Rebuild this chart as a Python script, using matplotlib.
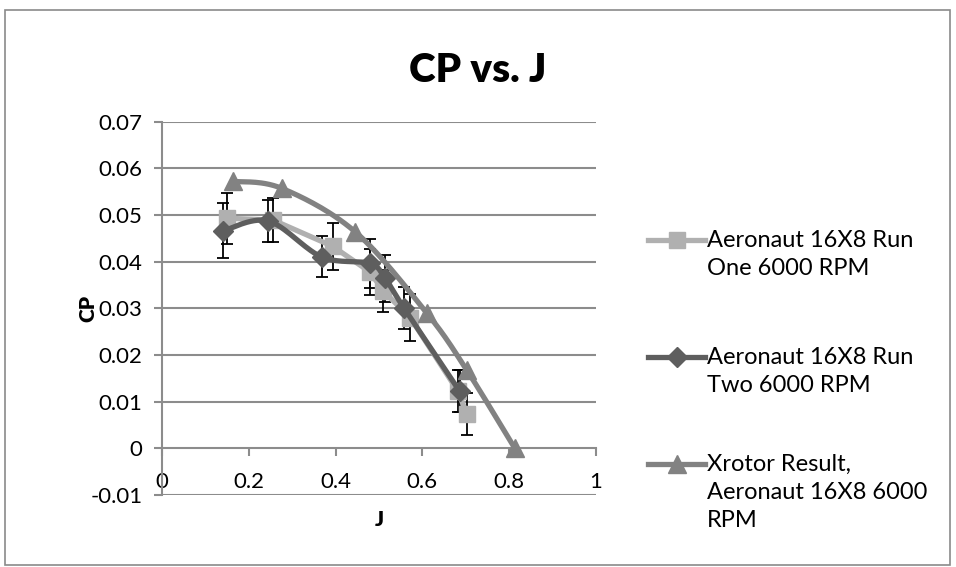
import numpy as np
import matplotlib
matplotlib.use("Agg")
import matplotlib.pyplot as plt
from matplotlib.lines import Line2D
from matplotlib.patches import Rectangle

plt.rcParams['font.family'] = ['Lato', 'DejaVu Sans']

# ---- data ----
run1_J = [0.149, 0.256, 0.393, 0.479, 0.510, 0.572, 0.682, 0.702]
run1_CP = [0.0493, 0.0489, 0.0433, 0.0378, 0.0337, 0.0280, 0.0122, 0.0074]
run1_err = [0.0055, 0.0048, 0.0050, 0.0050, 0.0045, 0.0050, 0.0045, 0.0045]

run2_J = [0.141, 0.245, 0.368, 0.479, 0.514, 0.558, 0.686]
run2_CP = [0.0466, 0.0487, 0.0410, 0.0396, 0.0364, 0.0300, 0.0122]
run2_err = [0.0059, 0.0045, 0.0044, 0.0052, 0.0050, 0.0045, 0.0045]

xr_J = [0.164, 0.276, 0.445, 0.610, 0.702, 0.813]
xr_CP = [0.0572, 0.0557, 0.0464, 0.0290, 0.0168, 0.0]

labels = ["Aeronaut 16X8 Run\nOne 6000 RPM",
          "Aeronaut 16X8 Run\nTwo 6000 RPM",
          "Xrotor Result,\nAeronaut 16X8 6000\nRPM"]
title = "CP vs. J"
xticks = [0, 0.2, 0.4, 0.6, 0.8, 1]
yticks = [-0.01, 0, 0.01, 0.02, 0.03, 0.04, 0.05, 0.06, 0.07]

c1, c2, c3 = "#b0b0b0", "#5e5e5e", "#828282"


def smooth(x, y, sx=434.0, sy=4670.0, n=30):
    """Excel-like Bezier smoothing (Catmull-Rom) in screen-scaled space."""
    P = np.column_stack([np.asarray(x) * sx, np.asarray(y) * sy])
    out = [P[0]]
    m = len(P)
    for i in range(m - 1):
        p0 = P[i - 1] if i > 0 else P[i]
        p1 = P[i]
        p2 = P[i + 1]
        p3 = P[i + 2] if i + 2 < m else P[i + 1]
        b1 = p1 + (p2 - p0) / 6.0
        b2 = p2 - (p3 - p1) / 6.0
        t = np.linspace(0, 1, n)[1:, None]
        seg = ((1 - t) ** 3) * p1 + 3 * ((1 - t) ** 2) * t * b1 + 3 * (1 - t) * t ** 2 * b2 + t ** 3 * p2
        out.extend(seg)
    out = np.array(out)
    return out[:, 0] / sx, out[:, 1] / sy


fig = plt.figure(figsize=(9.56, 5.67), dpi=100)
fig.patches.append(Rectangle((5 / 956, 2 / 567), 945 / 956, 555 / 567, transform=fig.transFigure,
                             fill=False, edgecolor="#8a8a8a", linewidth=1.2))

ax = fig.add_axes([162 / 956, 1 - 495 / 567, 434 / 956, 373.4 / 567])
ax.set_xlim(0, 1)
ax.set_ylim(-0.01, 0.07)

# gridlines
for yv in yticks:
    if yv != 0:
        ax.axhline(yv, color="#8c8c8c", linewidth=1.5, zorder=0)

# errorbars
ax.errorbar(run1_J, run1_CP, yerr=run1_err, fmt='none', ecolor='black', elinewidth=1.3,
            capsize=4, capthick=1.3, zorder=2)
ax.errorbar(run2_J, run2_CP, yerr=run2_err, fmt='none', ecolor='black', elinewidth=1.3,
            capsize=4, capthick=1.3, zorder=2)

# series 1 (straight)
ax.plot(run1_J, run1_CP, color=c1, linewidth=3.8, marker='s', markersize=11,
        markerfacecolor=c1, markeredgecolor=c1, zorder=3)
# series 2 (smoothed)
sx, sy = smooth(run2_J, run2_CP)
ax.plot(sx, sy, color=c2, linewidth=3.8, zorder=4, solid_capstyle='round')
ax.plot(run2_J, run2_CP, linestyle='none', marker='D', markersize=10,
        markerfacecolor=c2, markeredgecolor=c2, zorder=4)
# series 3 (smoothed)
tx, ty = smooth(xr_J, xr_CP)
ax.plot(tx, ty, color=c3, linewidth=3.8, zorder=5, solid_capstyle='round')
ax.plot(xr_J, xr_CP, linestyle='none', marker='^', markersize=13,
        markerfacecolor=c3, markeredgecolor=c3, zorder=5)

# axes styling
for s in ['top', 'right']:
    ax.spines[s].set_visible(False)
ax.spines['bottom'].set_position(('data', 0))
ax.spines['bottom'].set_color("#8c8c8c")
ax.spines['bottom'].set_linewidth(1.5)
ax.spines['left'].set_color("#8c8c8c")
ax.spines['left'].set_linewidth(1.5)
ax.set_xticks(xticks)
ax.set_yticks(yticks)
ax.set_xticklabels([f"{v:g}" for v in xticks])
ax.set_yticklabels([f"{v:g}" for v in yticks])
ax.tick_params(axis='x', direction='out', length=6, width=1.5, color="#8c8c8c",
               labelsize=16, pad=11)
ax.tick_params(axis='y', direction='out', length=6, width=1.5, color="#8c8c8c",
               labelsize=16, pad=8)
ax.set_xlabel("J", fontsize=15, fontweight='heavy')
ax.xaxis.set_label_coords(0.5, -0.04)
ax.set_ylabel("CP", fontsize=15, fontweight='heavy')
ax.yaxis.set_label_coords(-0.15, 0.5)

fig.text(478 / 956, 1 - 70 / 567, title, ha='center', va='center', fontsize=29, fontweight='heavy')

# legend (manual, Excel-like)
entries = [(c1, 's', 11, 240), (c2, 'D', 10, 357), (c3, '^', 13, 464)]
for (col, mk, ms, ypx), lab in zip(entries, labels):
    yf = 1 - ypx / 567
    fig.add_artist(Line2D([648 / 956, 705 / 956], [yf, yf], color=col, linewidth=3.8,
                          transform=fig.transFigure))
    fig.add_artist(Line2D([676.5 / 956], [yf], marker=mk, markersize=ms, color=col,
                          linestyle='none', transform=fig.transFigure))
    fig.text(707 / 956, 1 - (ypx - 10) / 567, lab, ha='left', va='top', fontsize=17,
             linespacing=1.4)

fig.savefig("out.png", dpi=100)
